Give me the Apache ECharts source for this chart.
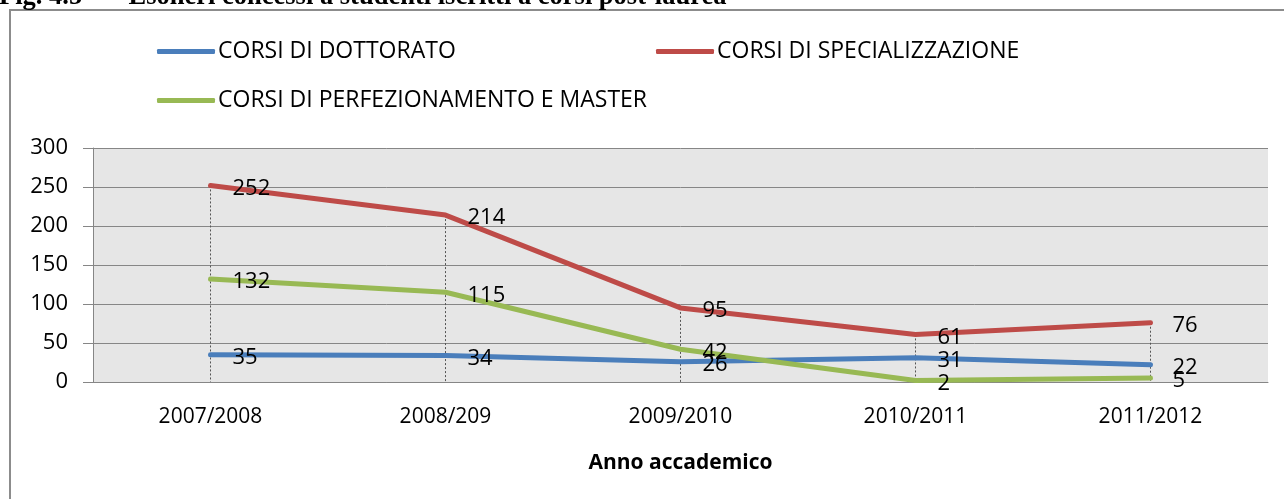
<!DOCTYPE html>
<html>
<head>
<meta charset="utf-8">
<script src="https://cdn.jsdelivr.net/npm/echarts@6/dist/echarts.min.js"></script>
<style>
html,body{margin:0;padding:0;background:#fff;}
#chart{width:1284px;height:499px;}
</style>
</head>
<body>
<div id="chart"></div>
<script>
const categories = ['2007/2008', '2008/209', '2009/2010', '2010/2011', '2011/2012'];
const dottorato = [35, 34, 26, 31, 22];
const specializzazione = [252, 214, 95, 61, 76];
const perfezionamento = [132, 115, 42, 2, 5];
const yTicks = [0, 50, 100, 150, 200, 250, 300];
const seriesNames = ['CORSI DI DOTTORATO', 'CORSI DI SPECIALIZZAZIONE', 'CORSI DI PERFEZIONAMENTO E MASTER'];
const titleText = 'Fig. 4.5   \u2013  Esoneri concessi a studenti iscritti a corsi post-laurea';

const FONT = '"Open Sans", "Noto Sans", sans-serif';
const colors = ['#4a7ebb', '#be4b48', '#98b954'];

const chart = echarts.init(document.getElementById('chart'));

function mkSeries(name, data, color, extra) {
  return Object.assign({
    name: name,
    type: 'line',
    data: data,
    symbol: 'circle',
    symbolSize: 2,
    lineStyle: { width: 5, color: color, cap: 'round', join: 'round' },
    itemStyle: { color: color },
    emphasis: { disabled: true },
    animation: false,
    z: 3,
    label: {
      show: true,
      position: 'right',
      distance: 21,
      offset: [0, 3],
      color: '#000',
      fontFamily: FONT,
      fontSize: 22
    }
  }, extra || {});
}

const dropData = categories.map((c, i) => {
  const top = Math.max(dottorato[i], specializzazione[i], perfezionamento[i]);
  return [{ coord: [c, top] }, { coord: [c, yTicks[0]] }];
});

function mkLegend(name, left, top) {
  return {
    data: [name],
    left: left,
    top: top,
    icon: 'roundRect',
    itemWidth: 58,
    itemHeight: 5,
    itemGap: 0,
    textStyle: { fontFamily: FONT, fontSize: 23, color: '#000', padding: [0, 0, 0, -2] },
    selectedMode: false
  };
}

chart.setOption({
  backgroundColor: '#fff',
  animation: false,
  graphic: [
    {
      type: 'rect',
      shape: { x: 10, y: 10, width: 1290, height: 520 },
      style: { fill: 'none', stroke: '#8c8c8c', lineWidth: 2 },
      z: 0
    },
    {
      type: 'text',
      left: -1,
      top: -16,
      style: {
        text: titleText,
        font: 'bold 26.5px "Liberation Serif", "Times New Roman", serif',
        fill: '#000'
      },
      z: 5
    }
  ],
  legend: [
    mkLegend(seriesNames[0], 152, 35),
    mkLegend(seriesNames[1], 651, 35),
    mkLegend(seriesNames[2], 152, 84)
  ],
  grid: {
    left: 93,
    right: 16,
    top: 148,
    bottom: 117,
    show: true,
    backgroundColor: '#e6e6e6',
    borderWidth: 0
  },
  xAxis: {
    type: 'category',
    data: categories,
    boundaryGap: true,
    name: 'Anno accademico',
    nameLocation: 'middle',
    nameGap: 71,
    nameTextStyle: { fontFamily: FONT, fontSize: 21, fontWeight: 'bold', color: '#000' },
    axisLine: { show: true, lineStyle: { color: '#868686', width: 1 } },
    axisTick: { show: false },
    axisLabel: { fontFamily: FONT, fontSize: 21, color: '#000', margin: 25 },
    splitLine: { show: false }
  },
  yAxis: {
    type: 'value',
    min: yTicks[0],
    max: yTicks[yTicks.length - 1],
    interval: yTicks[1] - yTicks[0],
    axisLine: { show: true, lineStyle: { color: '#868686', width: 1 } },
    axisTick: { show: true, length: 10, lineStyle: { color: '#868686' } },
    axisLabel: { fontFamily: FONT, fontSize: 22, color: '#000', margin: 25 },
    splitLine: { show: true, lineStyle: { color: '#868686', width: 1 } }
  },
  series: [
    mkSeries(seriesNames[0], dottorato, colors[0]),
    mkSeries(seriesNames[1], specializzazione, colors[1], {
      markLine: {
        silent: true,
        symbol: 'none',
        animation: false,
        label: { show: false },
        lineStyle: { color: '#555', width: 1, type: [2, 2] },
        emphasis: { disabled: true },
        data: dropData,
        z: 2
      }
    }),
    mkSeries(seriesNames[2], perfezionamento, colors[2])
  ]
});
</script>
</body>
</html>
